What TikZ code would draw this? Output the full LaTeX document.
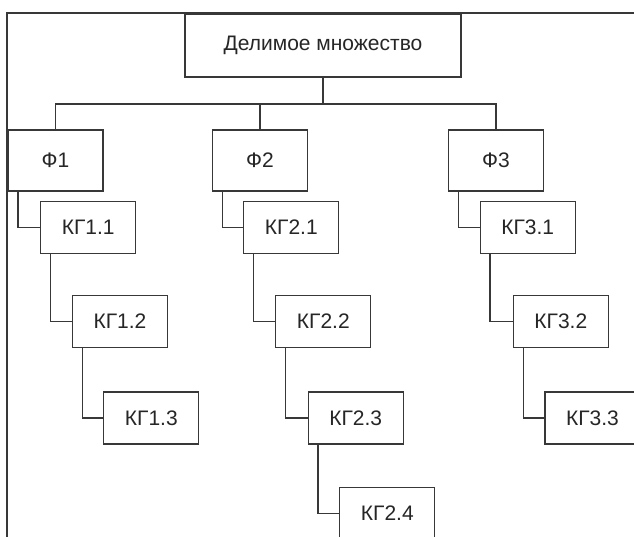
\documentclass[tikz,border=0pt]{standalone}
\usepackage{fontspec}
\setmainfont{Liberation Sans}
\begin{document}
\begin{tikzpicture}[x=1pt,y=-1pt,
  line width=1.3pt,
  box/.style={draw=black!78,rectangle,minimum width=95pt,minimum height=52pt,inner sep=0pt,
    font=\fontsize{21pt}{23pt}\selectfont,text=black!85},
  fbox/.style={box,minimum height=61pt},
  link/.style={draw=black!78,line width=1.3pt}]
\useasboundingbox (0,0) rectangle (634,536);
\clip (0,0) rectangle (634,536);
\fill[white] (0,0) rectangle (634,536);
\draw[link] (7,540) -- (7,13) -- (640,13);
\node[box,minimum width=276pt,minimum height=63pt] (top) at (323,45.5) {Делимое множество};
\node[fbox] (F1) at (55.5,160.5) {Ф1};
\node[fbox] (F2) at (260,160.5) {Ф2};
\node[fbox] (F3) at (496,160.5) {Ф3};
\coordinate (bus) at (323,104);
\draw[link] (top.south) -- (bus);
\draw[link] (F1.north) |- (bus) -| (F3.north);
\draw[link] (F2.north) -- (F2.north |- bus);
\node[box] (K11) at (88.2,227.5) {КГ1.1};
\node[box] (K12) at (120,321.2) {КГ1.2};
\node[box] (K13) at (151.3,418) {КГ1.3};
\node[box] (K21) at (291.3,227.5) {КГ2.1};
\node[box] (K22) at (323.3,321.2) {КГ2.2};
\node[box] (K23) at (355.7,418) {КГ2.3};
\node[box] (K24) at (387.3,513.3) {КГ2.4};
\node[box] (K31) at (527.7,227.5) {КГ3.1};
\node[box] (K32) at (560.8,321.2) {КГ3.2};
\node[box] (K33) at (592.5,418) {КГ3.3};
\foreach \a/\b in {F1/K11,K11/K12,K12/K13,F2/K21,K21/K22,K22/K23,K23/K24,F3/K31,K31/K32,K32/K33}
  \draw[link] ([xshift=10.5pt]\a.south west) |- (\b.west);
\end{tikzpicture}
\end{document}
